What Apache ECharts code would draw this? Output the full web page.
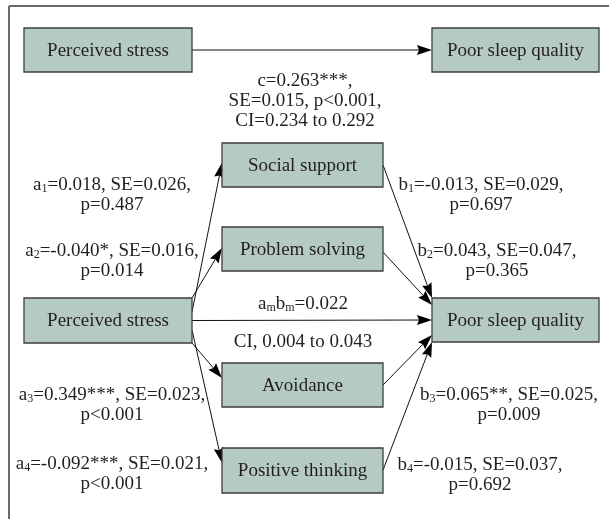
<!DOCTYPE html>
<html><head><meta charset="utf-8">
<script src="https://cdn.jsdelivr.net/npm/echarts@6/dist/echarts.min.js"></script>
<style>html,body{margin:0;padding:0;background:#fff}#c{width:609px;height:519px}</style>
</head><body><div id="c"></div>
<script>
// ---------- data ----------
const nodeIds   = ['X0', 'Y0', 'X', 'M1', 'M2', 'M3', 'M4', 'Y'];
const nodeNames = ['Perceived stress', 'Poor sleep quality', 'Perceived stress', 'Social support',
                   'Problem solving', 'Avoidance', 'Positive thinking', 'Poor sleep quality'];
const edgeFrom  = ['X0', 'X', 'X', 'X', 'X', 'X', 'M1', 'M2', 'M3', 'M4'];
const edgeTo    = ['Y0', 'M1', 'M2', 'Y', 'M3', 'M4', 'Y', 'Y', 'Y', 'Y'];
const directEffectLines   = ['c=0.263***,', 'SE=0.015, p<0.001,', 'CI=0.234 to 0.292'];
const aPathLines = [
  ['a{s|1}=0.018, SE=0.026,', 'p=0.487'],
  ['a{s|2}=-0.040*, SE=0.016,', 'p=0.014'],
  ['a{s|3}=0.349***, SE=0.023,', 'p<0.001'],
  ['a{s|4}=-0.092***, SE=0.021,', 'p<0.001']
];
const bPathLines = [
  ['b{s|1}=-0.013, SE=0.029,', 'p=0.697'],
  ['b{s|2}=0.043, SE=0.047,', 'p=0.365'],
  ['b{s|3}=0.065**, SE=0.025,', 'p=0.009'],
  ['b{s|4}=-0.015, SE=0.037,', 'p=0.692']
];
const indirectEffectLines = ['a{s|m}b{s|m}=0.022', 'CI, 0.004 to 0.043'];

// ---------- layout (diagram space, 609 x 519) ----------
const boxLayout = {
  X0: [24, 28, 192, 72],  Y0: [432, 28, 599, 72],
  X:  [24, 298, 192, 343], Y: [432, 298, 599, 342],
  M1: [222, 143, 383, 187], M2: [222, 227, 383, 271],
  M3: [222, 363, 383, 407], M4: [222, 448, 383, 493]
};
// fraction along source right edge / target left edge
const edgePorts = [[0.5, 0.5], [0.31, 0.45], [0.0, 0.48], [0.5, 0.5], [1.0, 0.34],
                   [0.71, 0.33], [0.5, 0.0], [0.57, 0.16], [0.5, 0.84], [0.49, 1.0]];
const labelLayout = {
  direct: [305, 81],
  a: [[112, 185], [112, 251], [112, 395], [112, 464]],
  b: [[481, 185], [497, 251], [509, 395], [480, 465]],
  ind: [[303, 304], [303, 342]]
};

const FAMILY = 'Liberation Serif, DejaVu Serif, serif';
const FS = 19, LH = 20, TXT = '#231f20';
const MAIN_FONT = FS + 'px ' + FAMILY;
const rich = { s: { fontSize: 12, fontFamily: FAMILY, lineHeight: 12, verticalAlign: 'bottom', fill: TXT, color: TXT } };

const labelItems = [];
labelItems.push({ text: directEffectLines.join('\n'), pos: labelLayout.direct });
aPathLines.forEach((l, i) => labelItems.push({ text: l.join('\n'), pos: labelLayout.a[i] }));
bPathLines.forEach((l, i) => labelItems.push({ text: l.join('\n'), pos: labelLayout.b[i] }));
indirectEffectLines.forEach((l, i) => labelItems.push({ text: l, pos: labelLayout.ind[i] }));

const chart = echarts.init(document.getElementById('c'), null, { renderer: 'canvas' });
chart.setOption({
  animation: false,
  backgroundColor: '#ffffff',
  textStyle: { fontFamily: FAMILY },
  grid: { left: 0, right: 0, top: 0, bottom: 0, show: false },
  xAxis: { type: 'value', min: 0, max: 609, show: false },
  yAxis: { type: 'value', min: 0, max: 519, inverse: true, show: false },
  series: [
    { // frame
      type: 'custom', clip: false, silent: true,
      data: [[0, 0]],
      renderItem: function (params, api) {
        const a = api.coord([9, 6]), b = api.coord([9, 519]), c = api.coord([609, 6]);
        return { type: 'group', children: [
          { type: 'line', shape: { x1: a[0], y1: a[1], x2: b[0], y2: b[1] }, style: { stroke: '#3a3a3a', lineWidth: 1.5 } },
          { type: 'line', shape: { x1: a[0], y1: a[1], x2: c[0], y2: c[1] }, style: { stroke: '#6a6a6a', lineWidth: 1.8 } }
        ]};
      }
    },
    { // arrows
      type: 'custom', clip: false, silent: true,
      data: edgeFrom.map((f, i) => [i, 0]),
      renderItem: function (params, api) {
        const i = params.dataIndex;
        const s = boxLayout[edgeFrom[i]], t = boxLayout[edgeTo[i]], p = edgePorts[i];
        const p0 = api.coord([s[2], s[1] + p[0] * (s[3] - s[1])]);
        const p1 = api.coord([t[0], t[1] + p[1] * (t[3] - t[1])]);
        const dx = p1[0] - p0[0], dy = p1[1] - p0[1], L = Math.hypot(dx, dy);
        const ux = dx / L, uy = dy / L, nx = -uy, ny = ux;
        const len = 15, hw = 5, inset = 2;
        const bx = p1[0] - ux * len, by = p1[1] - uy * len;
        return { type: 'group', children: [
          { type: 'line', shape: { x1: p0[0], y1: p0[1], x2: bx + ux * inset, y2: by + uy * inset },
            style: { stroke: '#111', lineWidth: 1 } },
          { type: 'polygon', shape: { points: [
              [p1[0], p1[1]], [bx + nx * hw, by + ny * hw], [bx + ux * inset, by + uy * inset], [bx - nx * hw, by - ny * hw]
            ] }, style: { fill: '#000' } }
        ]};
      }
    },
    { // boxes
      type: 'custom', clip: false, silent: true,
      data: nodeIds.map((id, i) => [i, 0]),
      renderItem: function (params, api) {
        const i = params.dataIndex, b = boxLayout[nodeIds[i]];
        const p0 = api.coord([b[0], b[1]]), p1 = api.coord([b[2], b[3]]);
        return { type: 'group', children: [
          { type: 'rect', shape: { x: p0[0], y: p0[1], width: p1[0] - p0[0], height: p1[1] - p0[1] },
            style: { fill: '#b5cbc1', stroke: '#3e3e3e', lineWidth: 1.3 } },
          { type: 'text', style: { text: nodeNames[i], x: (p0[0] + p1[0]) / 2, y: (p0[1] + p1[1]) / 2 + 1,
            align: 'center', verticalAlign: 'middle', font: MAIN_FONT, fill: TXT } }
        ]};
      }
    },
    { // labels
      type: 'custom', clip: false, silent: true,
      data: labelItems.map((d, i) => [i, 0]),
      renderItem: function (params, api) {
        const it = labelItems[params.dataIndex];
        const p = api.coord(it.pos);
        return { type: 'text', style: { text: it.text, rich: rich, x: p[0], y: p[1] - LH / 2,
          align: 'center', verticalAlign: 'top', font: MAIN_FONT, lineHeight: LH, fill: TXT } };
      }
    }
  ]
});
</script></body></html>
